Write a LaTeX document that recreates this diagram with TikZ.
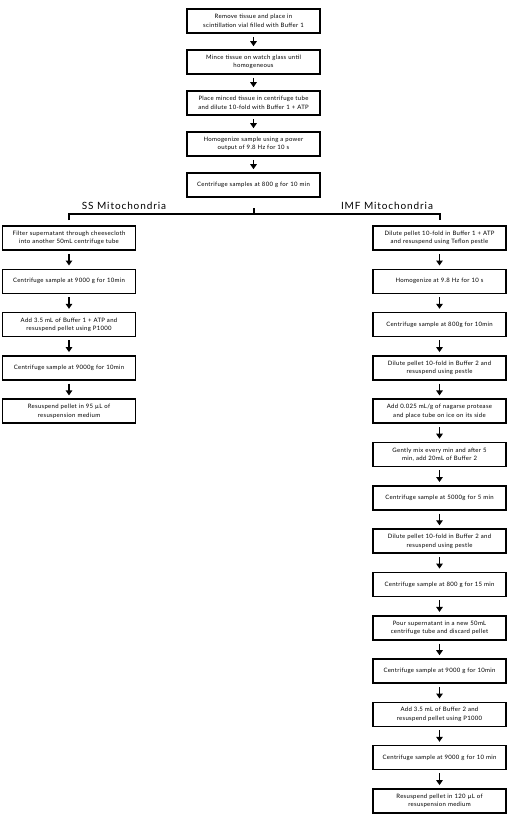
\documentclass[tikz,border=0pt]{standalone}
\usepackage{fontspec}
\setmainfont{Lato}
\newfontfamily\boxfont{Lato}[LetterSpace=5]
\newfontfamily\lblfont{Lato}[LetterSpace=9]
\usetikzlibrary{arrows.meta}
\begin{document}
\begin{tikzpicture}[x=1pt,y=-1pt,
  stepbox/.style={draw, line width=1.6pt, minimum width=133pt, minimum height=24pt, text width=129pt, align=center, font=\boxfont\fontsize{6}{8.5}\selectfont, inner sep=1pt},
  flow/.style={line width=1.6pt, -{Triangle[length=5pt,width=6.5pt]}, shorten <=3pt, shorten >=3pt},
  brk/.style={line width=2pt},
  lbl/.style={font=\lblfont\fontsize{10}{11}\selectfont, anchor=south, inner sep=0pt}]
\useasboundingbox (0,0) rectangle (508,819);
% top column
\node[stepbox] (t1) at (253.5,21) {Remove tissue and place in\\scintillation vial filled with Buffer 1};
\node[stepbox] (t2) at (253.5,62) {Mince tissue on watch glass until\\homogeneous};
\node[stepbox] (t3) at (253.5,103) {Place minced tissue in centrifuge tube\\and dilute 10-fold with Buffer 1 + ATP};
\node[stepbox] (t4) at (253.5,144) {Homogenize sample using a power\\output of 9.8 Hz for 10 s};
\node[stepbox] (t5) at (253.5,185) {Centrifuge samples at 800 g for 10 min};
\foreach \a/\b in {t1/t2,t2/t3,t3/t4,t4/t5} \draw[flow] (\a) -- (\b);
% bracket
\coordinate (stem) at (253.5,208);
\coordinate (split) at (253.5,214);
\coordinate (lt) at (69,214);
\coordinate (rt) at (439.5,214);
\coordinate (ltend) at (69,220);
\coordinate (rtend) at (439.5,220);
\draw[brk] (stem) -- (split);
\draw[brk] (ltend) -- (lt) -- (rt) -- (rtend);
\node[lbl] (sslab) at (124,210) {SS Mitochondria};
\node[lbl] (imflab) at (387,210) {IMF Mitochondria};
% left column
\node[stepbox] (l1) at (69,238) {Filter supernatant through cheesecloth\\into another 50mL centrifuge tube};
\node[stepbox] (l2) at (69,281.3) {Centrifuge sample at 9000 g for 10min};
\node[stepbox] (l3) at (69,324.6) {Add 3.5 mL of Buffer 1 + ATP and\\resuspend pellet using P1000};
\node[stepbox] (l4) at (69,367.9) {Centrifuge sample at 9000g for 10min};
\node[stepbox] (l5) at (69,411.2) {Resuspend pellet in 95 µL of\\resuspension medium};
\foreach \a/\b in {l1/l2,l2/l3,l3/l4,l4/l5} \draw[flow] (\a) -- (\b);
% right column
\node[stepbox] (r1) at (439.5,238) {Dilute pellet 10-fold in Buffer 1 + ATP\\and resuspend using Teflon pestle};
\node[stepbox] (r2) at (439.5,281.3) {Homogenize at 9.8 Hz for 10 s};
\node[stepbox] (r3) at (439.5,324.6) {Centrifuge sample at 800g for 10min};
\node[stepbox] (r4) at (439.5,367.9) {Dilute pellet 10-fold in Buffer 2 and\\resuspend using pestle};
\node[stepbox] (r5) at (439.5,411.2) {Add 0.025 mL/g of nagarse protease\\and place tube on ice on its side};
\node[stepbox] (r6) at (439.5,454.5) {Gently mix every min and after 5\\min, add 20mL of Buffer 2};
\node[stepbox] (r7) at (439.5,497.8) {Centrifuge sample at 5000g for 5 min};
\node[stepbox] (r8) at (439.5,541.1) {Dilute pellet 10-fold in Buffer 2 and\\resuspend using pestle};
\node[stepbox] (r9) at (439.5,584.4) {Centrifuge sample at 800 g for 15 min};
\node[stepbox] (r10) at (439.5,627.7) {Pour supernatant in a new 50mL\\centrifuge tube and discard pellet};
\node[stepbox] (r11) at (439.5,671.0) {Centrifuge sample at 9000 g for 10min};
\node[stepbox] (r12) at (439.5,714.3) {Add 3.5 mL of Buffer 2 and\\resuspend pellet using P1000};
\node[stepbox] (r13) at (439.5,757.6) {Centrifuge sample at 9000 g for 10 min};
\node[stepbox] (r14) at (439.5,800.9) {Resuspend pellet in 120 µL of\\resuspension medium};
\foreach \a/\b in {r1/r2,r2/r3,r3/r4,r4/r5,r5/r6,r6/r7,r7/r8,r8/r9,r9/r10,r10/r11,r11/r12,r12/r13,r13/r14} \draw[flow] (\a) -- (\b);
\end{tikzpicture}
\end{document}
